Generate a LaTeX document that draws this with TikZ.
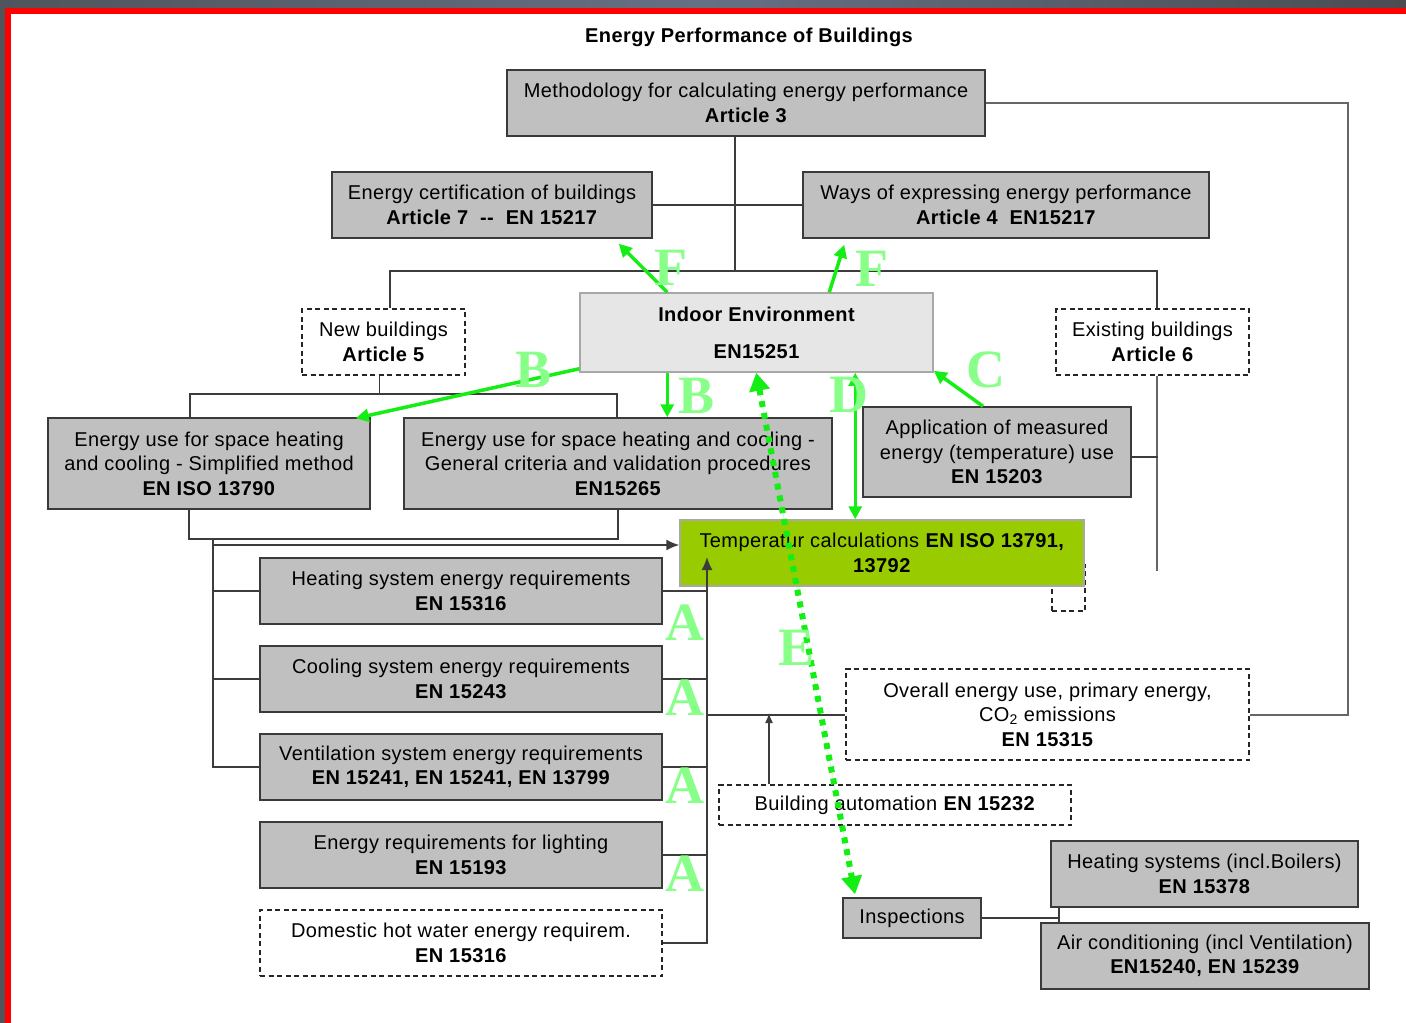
\documentclass[tikz,border=0pt]{standalone}
\usepackage{fontspec}
\setmainfont{Liberation Sans}[LetterSpace=2.0]
\newfontfamily\letterfont{Liberation Serif}
\usetikzlibrary{arrows.meta,calc}
\newcommand\dgfont{\fontsize{20}{24.5}\selectfont}
\definecolor{boxgray}{HTML}{C0C0C0}
\definecolor{boxline}{HTML}{3A3A3A}
\definecolor{connline}{HTML}{3C3C3C}
\definecolor{arrowgreen}{HTML}{14EE14}
\definecolor{lettergreen}{HTML}{88FF88}
\definecolor{tempgreen}{HTML}{99CC00}
\definecolor{templine}{HTML}{A8A8A8}
\definecolor{indoorgray}{HTML}{E6E6E6}
\definecolor{indoorline}{HTML}{A8A8A8}
\definecolor{frameL}{HTML}{50555C}
\definecolor{frameM}{HTML}{667085}
\definecolor{frameR}{HTML}{4A4D52}
\definecolor{framered}{HTML}{FF0000}
\tikzset{
  sz/.style 2 args={minimum width=#1pt, minimum height=#2pt},
  gbox/.style={draw=boxline, fill=boxgray, line width=1.5pt, inner sep=0pt, align=center, font=\dgfont},
  dbox/.style={draw=black!85, fill=white, line width=1.3pt, dash pattern=on 5pt off 3.5pt, inner sep=0pt, align=center, font=\dgfont},
  conn/.style={draw=connline, line width=1.5pt},
  blk/.style={-{Latex[length=13pt,width=11pt]}},
  garrow/.style={draw=arrowgreen, fill=arrowgreen, line width=3.5pt, -{Triangle[length=13pt,width=13pt]}},
  garrowtwo/.style={draw=arrowgreen, fill=arrowgreen, line width=3.5pt, {Triangle[length=13pt,width=13pt]}-{Triangle[length=13pt,width=13pt]}},
  edotted/.style={draw=arrowgreen, fill=arrowgreen, line width=6pt, dash pattern=on 6pt off 6pt, {Triangle[length=18pt,width=20pt]}-{Triangle[length=18pt,width=20pt]}},
  lbl/.style={font=\letterfont\bfseries\fontsize{54}{54}\selectfont, text=lettergreen, inner sep=0pt},
}
\begin{document}
\begin{tikzpicture}[x=1pt,y=-1pt]
\useasboundingbox (0,0) rectangle (1406,1023);
% frame
\shade[left color=frameL, right color=frameR, middle color=frameM] (0,0) rectangle (1406,8);
\fill[frameL] (0,8) rectangle (5,1023);
\fill[framered] (5,8) rectangle (1406,14);
\fill[framered] (5,8) rectangle (11,1023);

% title
\node[font=\dgfont\bfseries] (title) at (749,37) {Energy Performance of Buildings};

% boxes
\node[gbox, sz={478}{66}] (meth) at (746,103) {Methodology for calculating energy performance\\\textbf{Article 3}};
\node[gbox, sz={320}{66}] (cert) at (492,205) {Energy certification of buildings\\\textbf{Article 7 \ -{}- \ EN 15217}};
\node[gbox, sz={406}{66}] (ways) at (1006,205) {Ways of expressing energy performance\\\textbf{Article 4 \ EN15217}};
\node[draw=indoorline, fill=indoorgray, line width=1.5pt, sz={353}{79}, align=center, font=\dgfont\bfseries, inner sep=0pt] (indoor) at (756.5,332.5) {Indoor Environment\\[12.5pt]EN15251};
\node[dbox, sz={163}{66}] (newb) at (383.5,342) {New buildings\\\textbf{Article 5}};
\node[dbox, sz={193}{66}] (exist) at (1152.5,342) {Existing buildings\\\textbf{Article 6}};
\node[gbox, sz={322}{91}] (simp) at (209,463.5) {Energy use for space heating\\and cooling - Simplified method\\\textbf{EN ISO 13790}};
\node[gbox, sz={428}{91}] (gen) at (618,463.5) {Energy use for space heating and cooling -\\General criteria and validation procedures\\\textbf{EN15265}};
\node[gbox, sz={268}{90}] (appl) at (997,452) {Application of measured\\energy (temperature) use\\\textbf{EN 15203}};
\node[dbox, sz={33}{46}] (small) at (1068.5,588) {};
\node[draw=templine, fill=tempgreen, line width=1.5pt, sz={404}{66}, align=center, font=\dgfont, inner sep=0pt] (temp) at (882,553) {Temperatur calculations \textbf{EN ISO 13791,}\\\textbf{13792}};
\node[gbox, sz={402}{66}] (heat) at (461,591) {Heating system energy requirements\\\textbf{EN 15316}};
\node[gbox, sz={402}{66}] (cool) at (461,679) {Cooling system energy requirements\\\textbf{EN 15243}};
\node[gbox, sz={402}{66}] (vent) at (461,767) {Ventilation system energy requirements\\\textbf{EN 15241, EN 15241, EN 13799}};
\node[gbox, sz={402}{66}] (light) at (461,855) {Energy requirements for lighting\\\textbf{EN 15193}};
\node[dbox, sz={402}{66}] (dhw) at (461,943) {Domestic hot water energy requirem.\\\textbf{EN 15316}};
\node[dbox, sz={403}{91}] (overall) at (1047.5,714.5) {Overall energy use, primary energy,\\CO\textsubscript{2} emissions\\\textbf{EN 15315}};
\node[dbox, sz={352}{40}] (bauto) at (895,805) {Building automation \textbf{EN 15232}};
\node[gbox, sz={138}{40}] (insp) at (912,918) {Inspections};
\node[gbox, sz={307}{66}] (hsys) at (1204.5,874) {Heating systems (incl.Boilers)\\\textbf{EN 15378}};
\node[gbox, sz={328}{66}] (aircon) at (1205,956) {Air conditioning (incl Ventilation)\\\textbf{EN15240, EN 15239}};

% connectors
\coordinate (topbar) at (735,271);
\draw[conn] ([xshift=-11pt]meth.south) -- (topbar);
\draw[conn] ([xshift=6.5pt]newb.north) |- (topbar) -| ([xshift=4.5pt]exist.north);
\draw[conn] (cert.east) -- (ways.west);
\draw[conn, draw=black!60, line width=2pt] (meth.east) -- ++(362,0) |- (overall.east);
\coordinate (nbbar) at (379.5,394);
\draw[conn] ([xshift=-4pt]newb.south) -- (nbbar);
\draw[conn] ([xshift=-19pt]simp.north) |- (nbbar) -| ([xshift=-1pt]gen.north);
\coordinate (botbar) at (400,539);
\draw[conn] ([xshift=-20pt]simp.south) |- (botbar) -| (gen.south);
\coordinate (lb) at (213,539);
\draw[conn] (lb) |- (vent.west);
\draw[conn] (heat.west -| lb) -- (heat.west);
\draw[conn] (cool.west -| lb) -- (cool.west);
\coordinate (lbt) at (213,545);
\draw[conn, blk] (lbt) -- (lbt -| temp.west);
\coordinate (rbtop) at (707,557);
\draw[conn, blk] (dhw.east) -| (rbtop);
\foreach \n in {heat,cool,vent,light} \draw[conn] (\n.east) -- (\n.east -| rbtop);
\coordinate (rbmid) at (707,715);
\draw[conn] (rbmid) -- (rbmid -| overall.west);
\coordinate (bat) at (769,713);
\draw[conn, -{Latex[length=10pt,width=8pt]}] (bat |- bauto.north) -- (bat);
\draw[conn, draw=black!60, line width=2pt] ([xshift=4.5pt]exist.south) -- ++(0,195);
\draw[conn] ([yshift=-5pt]appl.east) -- ++(26,0);
\coordinate (insj) at (1059,918);
\draw[conn] (insp.east) -- (insj);
\draw[conn] (insj |- hsys.south) -- (insj |- aircon.north);

% green arrows
\draw[garrow] ([xshift=88pt]indoor.north west) -- ([xshift=-34pt,yshift=-5pt]cert.south east);
\draw[garrow] ([xshift=250pt]indoor.north west) -- ([xshift=42pt,yshift=-6pt]ways.south west);
\draw[garrow] ([yshift=4pt]indoor.south west) -- ([xshift=-15pt,yshift=-1pt]simp.north east);
\coordinate (bts) at ([xshift=88pt]indoor.south west);
\draw[garrow] (bts) -- (bts |- gen.north);
\coordinate (ds) at ([xshift=276pt]indoor.south west);
\draw[garrowtwo] (ds) -- (ds |- temp.north);
\draw[garrow] ([xshift=-14pt]appl.north) -- ([yshift=2pt]indoor.south east);
\draw[edotted] ([xshift=177pt]indoor.south west) -- ([xshift=-57pt,yshift=3pt]insp.north);

% letters
\node[lbl] (lF1) at (671,268) {F};
\node[lbl] (lF2) at (872,269) {F};
\node[lbl] (lB1) at (534,370) {B};
\node[lbl] (lB2) at (697,396) {B};
\node[lbl] (lC) at (986,370) {C};
\node[lbl] (lD) at (849,395) {D};
\node[lbl] (lE) at (797,648) {E};
\node[lbl] (lA1) at (685,623) {A};
\node[lbl] (lA2) at (685,698) {A};
\node[lbl] (lA3) at (685,786) {A};
\node[lbl] (lA4) at (685,874) {A};
\end{tikzpicture}
\end{document}
